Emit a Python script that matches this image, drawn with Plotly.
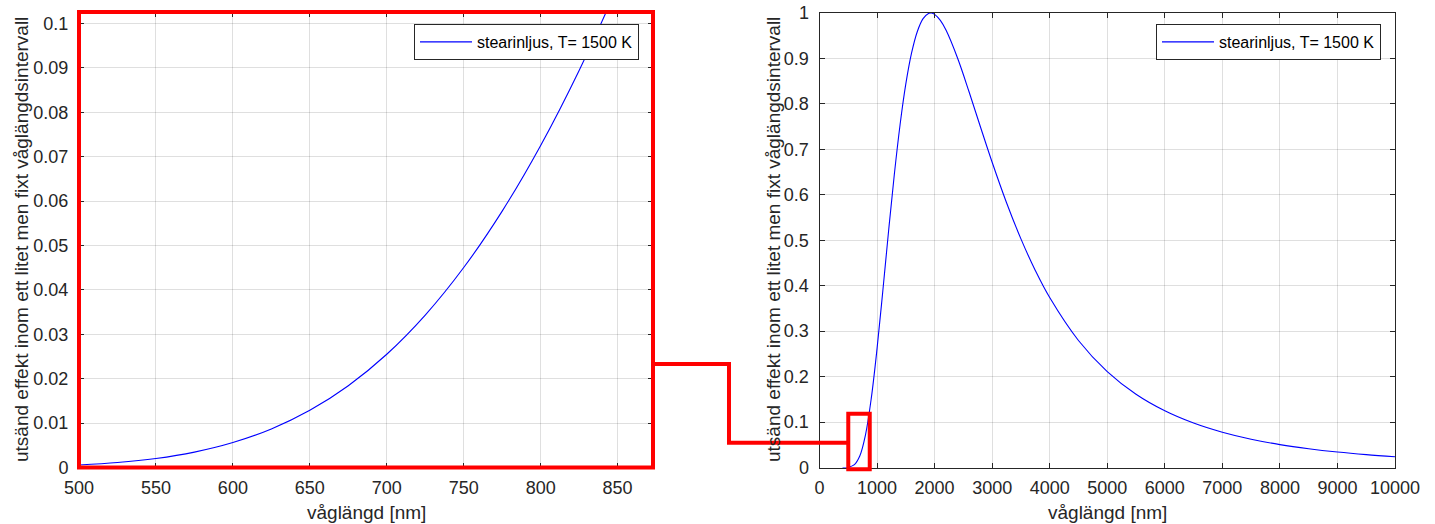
import plotly.graph_objects as go

# ---- data ----
left_wavelength = [500, 525, 550, 575, 600, 625, 650, 675, 700, 725, 750, 775, 800, 825, 850, 875]
left_power = [0.00057, 0.00112, 0.00203, 0.00347, 0.00562, 0.00868, 0.01288, 0.01842,
              0.02551, 0.03433, 0.04504, 0.05775, 0.07254, 0.08944, 0.10845, 0.12951]

right_wavelength = [400, 500, 600, 700, 800, 900, 1000, 1100, 1200, 1300, 1400, 1500, 1600,
                    1700, 1800, 1900, 1950, 2000, 2100, 2200, 2400, 2600, 2800, 3000, 3250,
                    3500, 3750, 4000, 4500, 5000, 5500, 6000, 6500, 7000, 7500, 8000, 8500,
                    9000, 9500, 10000]
right_power = [0.0, 0.0006, 0.0056, 0.0255, 0.0725, 0.1525, 0.2615, 0.3883, 0.5199, 0.6446,
               0.7541, 0.8439, 0.9121, 0.9594, 0.9876, 0.9993, 1.0, 0.9970, 0.9837, 0.9618,
               0.9003, 0.8261, 0.7481, 0.6715, 0.5825, 0.5030, 0.4336, 0.3739, 0.2794,
               0.2109, 0.1612, 0.1248, 0.0978, 0.0776, 0.0622, 0.0504, 0.0413, 0.0341,
               0.0284, 0.0238]

series_name = "stearinljus, T= 1500 K"
x_title = "våglängd [nm]"
y_title = "utsänd effekt inom ett litet men fixt våglängdsintervall"

left_xticks = [500, 550, 600, 650, 700, 750, 800, 850]
left_yticks = [0, 0.01, 0.02, 0.03, 0.04, 0.05, 0.06, 0.07, 0.08, 0.09, 0.1]
right_xticks = [0, 1000, 2000, 3000, 4000, 5000, 6000, 7000, 8000, 9000, 10000]
right_yticks = [0, 0.1, 0.2, 0.3, 0.4, 0.5, 0.6, 0.7, 0.8, 0.9, 1]

# zoom window (left plot limits / red box on the right plot)
zoom_x = [500, 873]
zoom_y = [0, 0.1026]
box_y = [-0.004, 0.118]
right_xrange = [0, 10000]
right_yrange = [0, 1]

# ---- layout geometry (pixels -> paper) ----
W, H = 1435, 524
def px(x):
    return x / W
def py(y):
    return (H - y) / H

x1_dom = [px(79), px(653)]
y1_dom = [py(467.5), py(12)]
x2_dom = [px(819.5), px(1395)]
y2_dom = [py(467.5), py(13)]

def to_paper(v, dom, rng):
    return dom[0] + (v - rng[0]) / (rng[1] - rng[0]) * (dom[1] - dom[0])

TXT = "#262626"
FONT = "Liberation Sans, Arial, Helvetica, sans-serif"
GRID = "rgba(38,38,38,0.15)"

fig = go.Figure()
fig.add_trace(go.Scatter(x=left_wavelength, y=left_power, mode="lines", name=series_name,
                         line=dict(color="#0000ff", width=1.1, shape="spline"),
                         xaxis="x", yaxis="y", legend="legend"))
fig.add_trace(go.Scatter(x=right_wavelength, y=right_power, mode="lines", name=series_name,
                         line=dict(color="#0000ff", width=1.1, shape="spline"),
                         xaxis="x2", yaxis="y2", legend="legend2"))

axis_common = dict(showgrid=True, gridcolor=GRID, gridwidth=1, zeroline=False,
                   showline=True, linecolor=TXT, linewidth=1, mirror="ticks",
                   ticks="inside", ticklen=5, tickcolor=TXT, tickwidth=1, automargin=False,
                   tickfont=dict(family=FONT, size=18, color=TXT))

legend_common = dict(xanchor="right", yanchor="top", bgcolor="white", bordercolor=TXT,
                     borderwidth=1, itemwidth=52,
                     font=dict(family=FONT, size=16, color="#000000"))

fig.update_layout(
    width=W, height=H,
    margin=dict(l=0, r=0, t=0, b=0, autoexpand=False),
    paper_bgcolor="white", plot_bgcolor="white",
    font=dict(family=FONT, color=TXT),
    xaxis=dict(domain=x1_dom, range=zoom_x, tickvals=left_xticks,
               anchor="y", ticklabelstandoff=4, **axis_common),
    yaxis=dict(domain=y1_dom, range=zoom_y, tickvals=left_yticks,
               ticktext=[f"{v:g}" for v in left_yticks],
               anchor="x", ticklabelstandoff=6, **axis_common),
    xaxis2=dict(domain=x2_dom, range=right_xrange, tickvals=right_xticks,
                ticktext=[str(v) for v in right_xticks],
                anchor="y2", ticklabelstandoff=4, **axis_common),
    yaxis2=dict(domain=y2_dom, range=right_yrange, tickvals=right_yticks,
                ticktext=[f"{v:g}" for v in right_yticks],
                anchor="x2", ticklabelstandoff=6, **axis_common),
    legend=dict(x=px(639), y=py(24), **legend_common),
    legend2=dict(x=px(1381), y=py(24), **legend_common),
    showlegend=True,
)

# axis titles
for xc in (366, 1107):
    fig.add_annotation(text=x_title, x=px(xc), y=py(512), xref="paper", yref="paper",
                       showarrow=False, xanchor="center", yanchor="middle",
                       font=dict(family=FONT, size=19, color=TXT))
for xc, yc in [(21, 240), (773, 240)]:
    fig.add_annotation(text=y_title, x=px(xc), y=py(yc), xref="paper", yref="paper",
                       showarrow=False, xanchor="center", yanchor="middle", textangle=-90,
                       font=dict(family=FONT, size=19, color=TXT))

RED = "#ff0000"
# red frame around the zoomed plot
fig.add_shape(type="rect", xref="paper", yref="paper",
              x0=x1_dom[0], x1=x1_dom[1], y0=y1_dom[0], y1=y1_dom[1],
              line=dict(color=RED, width=4), layer="above")
# red box on the overview plot (marks the zoom window)
bx0 = to_paper(zoom_x[0], x2_dom, right_xrange)
bx1 = to_paper(zoom_x[1], x2_dom, right_xrange)
by0 = to_paper(box_y[0], y2_dom, right_yrange)
by1 = to_paper(box_y[1], y2_dom, right_yrange)
fig.add_shape(type="rect", xref="paper", yref="paper", x0=bx0, x1=bx1, y0=by0, y1=by1,
              line=dict(color=RED, width=4), layer="above")
# connector
path = "M {:.5f},{:.5f} L {:.5f},{:.5f} L {:.5f},{:.5f} L {:.5f},{:.5f}".format(
    x1_dom[1], py(364), px(729), py(364), px(729), py(442.7), bx0, py(442.7))
fig.add_shape(type="path", xref="paper", yref="paper", path=path,
              line=dict(color=RED, width=4), layer="above")

fig.write_html("out.html")
